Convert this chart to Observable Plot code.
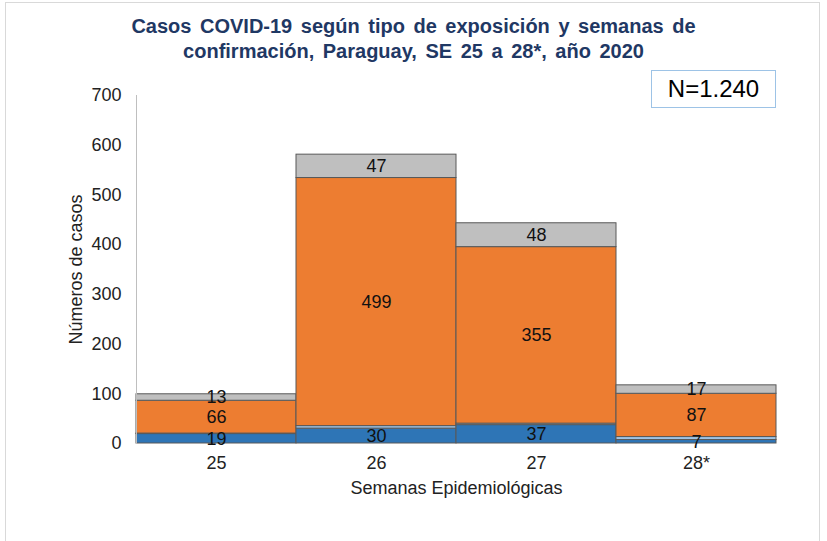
<!DOCTYPE html>
<html>
<head>
<meta charset="utf-8">
<script src="https://cdn.jsdelivr.net/npm/d3@7"></script>
<script src="https://cdn.jsdelivr.net/npm/@observablehq/plot@0.6"></script>
<style>
  html, body { margin: 0; padding: 0; background: #fff; }
  #wrap { position: relative; width: 827px; height: 541px; overflow: hidden; font-family: "Liberation Sans", Arial, sans-serif; }
  #border { position: absolute; left: 5px; top: 2px; width: 815px; height: 560px; border: 1px solid #d9d9d9; box-sizing: border-box; }
  #title { position: absolute; left: 0; top: 14px; width: 827px; text-align: center; color: #1f3864; font-weight: bold; font-size: 20px; line-height: 25px; word-spacing: 3px; }
  #nbox { position: absolute; left: 651px; top: 70px; width: 125px; height: 38px; border: 1.5px solid #9dc3e6; box-sizing: border-box; text-align: center; font-size: 24px; line-height: 35px; color: #000; background: #fff; }
  #chart { position: absolute; left: 0; top: 0; }
  #chart svg { font-size: 18px; }
</style>
</head>
<body>
<div id="wrap">
  <div id="border"></div>
  <div id="chart"></div>
  <div id="title">Casos COVID-19 según tipo de exposición y semanas de<br>confirmación, Paraguay, SE 25 a 28*, año 2020</div>
  <div id="nbox">N=1.240</div>
</div>
<script>
// Data
const weeks = ["25", "26", "27", "28*"];
const seriesNames = ["azul", "celeste", "naranja", "gris"];
const azul    = [19, 30, 37, 7];
const celeste = [1, 5, 3, 6];     // thin unlabeled strip
const naranja = [66, 499, 355, 87];
const gris    = [13, 47, 48, 17];
const labeled = {azul: true, celeste: false, naranja: true, gris: true};
const seriesColors = ["#2e75b6", "#9dc3e6", "#ed7d31", "#bfbfbf"];
const yTicks = [0, 100, 200, 300, 400, 500, 600, 700];

const valuesBySeries = {azul, celeste, naranja, gris};
const data = [];
weeks.forEach((w, i) => {
  seriesNames.forEach(s => data.push({week: w, series: s, value: valuesBySeries[s][i]}));
});

const chart = Plot.plot({
  width: 827,
  height: 541,
  marginLeft: 136,
  marginRight: 51,
  marginTop: 95,
  marginBottom: 98,
  style: {fontFamily: "'Liberation Sans', Arial, sans-serif", fontSize: "18px", background: "transparent", color: "#222"},
  x: {domain: weeks, padding: 0},
  y: {domain: [0, 700]},
  color: {domain: seriesNames, range: seriesColors},
  marks: [
    Plot.barY(data, Plot.stackY({
      x: "week", y: "value", z: "series", order: seriesNames,
      fill: "series", stroke: "#595959", strokeWidth: 1
    })),
    Plot.text(data, Plot.stackY({
      x: "week", y: "value", z: "series", order: seriesNames,
      text: d => labeled[d.series] ? String(d.value) : null,
      fontSize: 18, fill: "#111"
    })),
    Plot.frame({anchor: "left", stroke: "#bfbfbf", strokeOpacity: 1}),
    Plot.axisY({
      ticks: yTicks, tickSize: 0, tickPadding: 15, fontSize: 18,
      label: "Números de casos", labelAnchor: "center", labelArrow: "none", labelOffset: 67
    }),
    Plot.axisX({
      tickSize: 0, tickPadding: 13, fontSize: 18,
      label: "Semanas Epidemiológicas", labelAnchor: "center", labelArrow: "none", labelOffset: 50
    })
  ]
});
document.getElementById("chart").appendChild(chart);
</script>
</body>
</html>
